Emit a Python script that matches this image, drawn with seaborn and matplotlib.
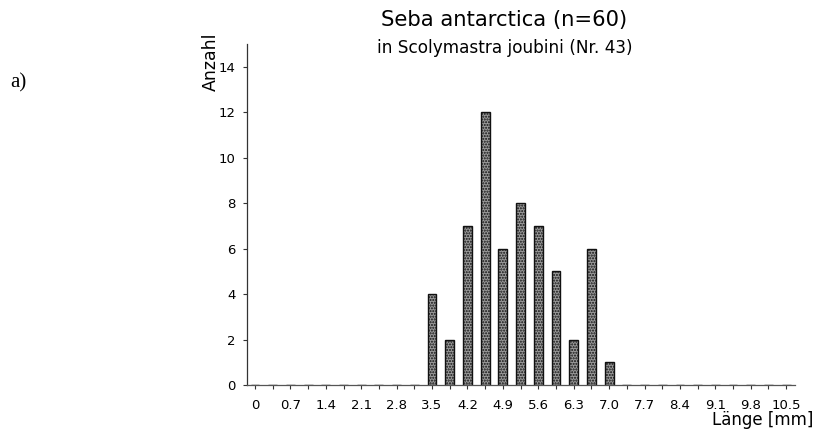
import matplotlib
matplotlib.use("Agg")
import matplotlib.pyplot as plt
import seaborn as sns
import pandas as pd

# Length classes (mm), 0.35 mm steps from 0 to 10.5
length_classes = [round(i * 0.35, 2) for i in range(31)]
counts = [0, 0, 0, 0, 0, 0, 0, 0, 0, 0,
          4, 2, 7, 12, 6, 8, 7, 5, 2, 6, 1,
          0, 0, 0, 0, 0, 0, 0, 0, 0, 0]
tick_labels = ["0", "0.7", "1.4", "2.1", "2.8", "3.5", "4.2", "4.9", "5.6",
               "6.3", "7.0", "7.7", "8.4", "9.1", "9.8", "10.5"]
y_ticks = [0, 2, 4, 6, 8, 10, 12, 14]

df = pd.DataFrame({"Länge": [f"{v:.2f}" for v in length_classes], "Anzahl": counts})

sns.set_style("white")
plt.rcParams["font.family"] = ["DejaVu Sans"]
plt.rcParams["text.color"] = "black"
plt.rcParams["xtick.color"] = "black"
plt.rcParams["ytick.color"] = "black"

fig = plt.figure(figsize=(8.16, 4.34), dpi=100)
ax = fig.add_axes([0.3027, 0.1129, 0.6716, 0.7857])

sns.barplot(data=df, x="Länge", y="Anzahl", ax=ax, color="#9a9a9a",
            width=0.5, edgecolor="#111111", linewidth=1.0, saturation=1)
for p in ax.patches:
    p.set_hatch("......")

ax.set_xlim(-0.45, 30.5)
ax.set_ylim(0, 15)
ax.set_xticks(range(31))
ax.set_xticklabels([tick_labels[i // 2] if i % 2 == 0 else "" for i in range(31)])
ax.set_yticks(y_ticks)
ax.set_yticklabels([str(t) for t in y_ticks])
ax.tick_params(axis="x", length=3, width=0.8, color="#333333", pad=7, labelsize=9.5)
ax.tick_params(axis="y", length=3, width=0.8, color="#333333", pad=5, labelsize=9.5)
ax.tick_params(axis="both", which="both", direction="out")
ax.xaxis.set_ticks_position("bottom")
ax.yaxis.set_ticks_position("left")

for s in ["top", "right"]:
    ax.spines[s].set_visible(False)
ax.spines["left"].set_color("#333333")
ax.spines["left"].set_linewidth(0.9)
ax.spines["bottom"].set_color("#555555")
ax.spines["bottom"].set_linewidth(0.9)
ax.spines["bottom"].set_linestyle((0, (2, 1)))

ax.set_xlabel("")
ax.set_ylabel("")

fig.text(0.618, 0.954, "Seba antarctica (n=60)", ha="center", va="center",
         fontsize=15.2)
fig.text(0.618, 0.890, "in Scolymastra joubini (Nr. 43)", ha="center", va="center",
         fontsize=12.2)
fig.text(0.259, 0.857, "Anzahl", rotation=90, ha="center", va="center", fontsize=12.5)
fig.text(0.997, 0.032, "Länge [mm]", ha="right", va="center", fontsize=12)
fig.text(0.012, 0.809, "a)", ha="left", va="center", fontsize=15,
         family=["Liberation Serif", "DejaVu Serif"])

fig.savefig("out.png", dpi=100)
